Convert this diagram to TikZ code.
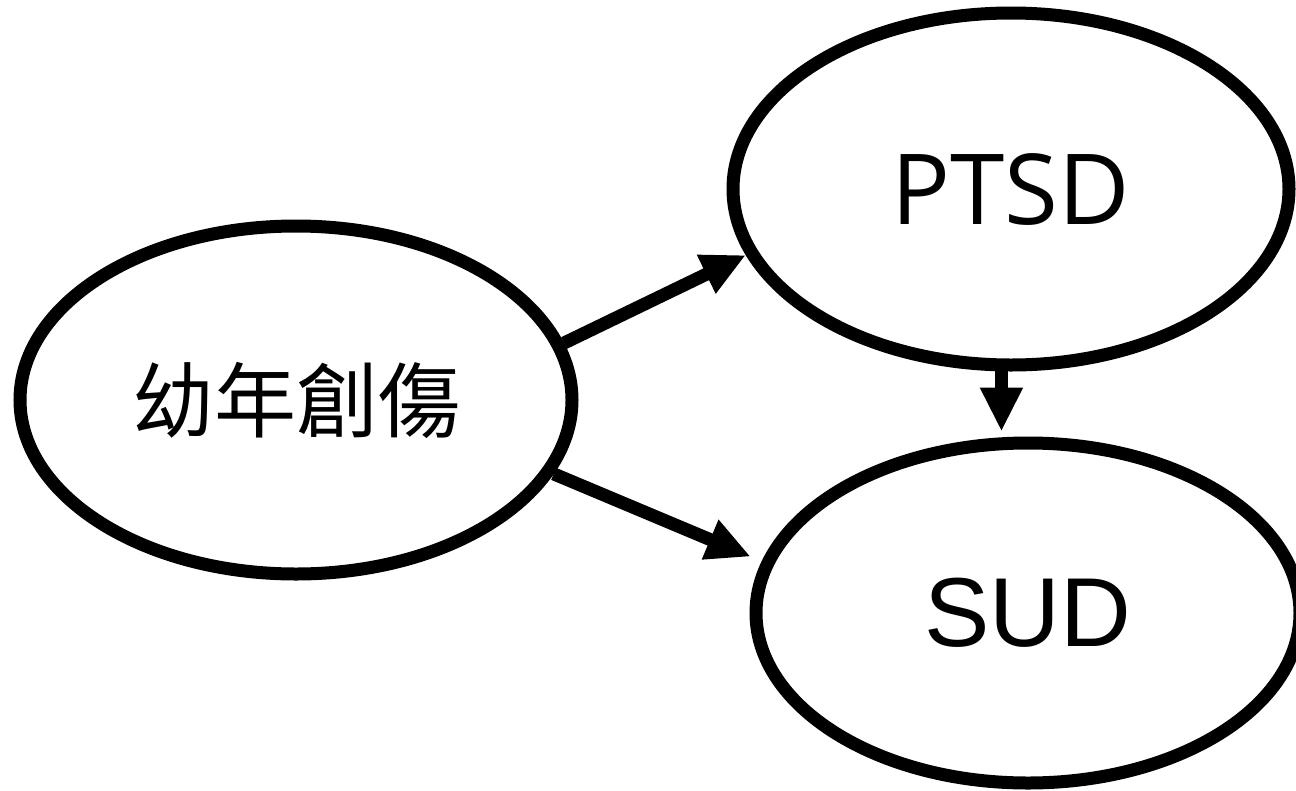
\documentclass[tikz,border=0pt]{standalone}
\usepackage{fontspec}
\setmainfont{Liberation Sans}
\newfontfamily\cjk{Noto Sans CJK TC}
\newfontfamily\opensans{Open Sans}
\newfontfamily\arialike{Liberation Sans}
\usetikzlibrary{shapes.geometric,arrows.meta}
\begin{document}
\begin{tikzpicture}[x=1pt,y=-1pt,
  oval/.style={ellipse,draw=black,line width=13pt,inner sep=0pt},
  arr/.style={line width=13pt,-{Triangle[length=44pt,width=40pt]}}]
\useasboundingbox (0,0) rectangle (1296,790);
\node[oval,minimum width=552pt,minimum height=348pt] (trauma) at (296,400)
  {\raisebox{-7pt}{\fontsize{82pt}{96pt}\selectfont\cjk 幼年創傷}};
\node[oval,minimum width=556pt,minimum height=352pt] (ptsd) at (1011,189)
  {\fontsize{98pt}{118pt}\selectfont\opensans PTSD};
\node[oval,minimum width=544pt,minimum height=340pt] (sud) at (1028,613)
  {\fontsize{98pt}{118pt}\selectfont\arialike SUD};
\draw[arr] (trauma.12.5) -- (ptsd.194);
\draw[arr,shorten >=12pt] (trauma.-16.4) -- (sud.169);
\draw[arr,shorten >=5pt] (ptsd.267) -- (ptsd.267 |- sud.north);
\end{tikzpicture}
\end{document}
